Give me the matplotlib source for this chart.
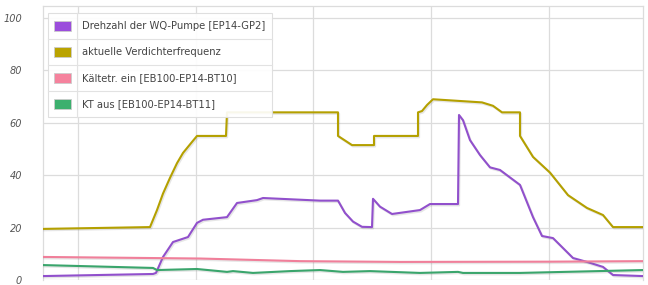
import matplotlib
matplotlib.use("Agg")
import matplotlib.pyplot as plt
import matplotlib.patheffects as pe
from matplotlib.patches import Rectangle

# ---- data (time index, arbitrary units) ----
olive_x = [0, 107, 114, 120, 127, 134, 140, 149, 154, 183, 184, 295, 295, 309, 331, 331, 375, 375, 379, 384, 390, 439, 450, 459, 477, 477, 490, 507, 525, 544, 560, 570, 600]
olive_y = [19.5, 20.2, 26.7, 33, 39, 44.6, 48.5, 52.7, 55, 55, 64, 64, 55, 51.5, 51.5, 55, 55, 64, 64.5, 66.8, 69, 67.8, 66.5, 64, 64, 55, 47, 41, 32.4, 27.5, 24.8, 20.2, 20.2]

purple_x = [0, 110, 113, 120, 130, 145, 154, 160, 184, 194, 214, 220, 277, 295, 302, 310, 319, 329, 330, 337, 349, 377, 387, 415, 416, 420, 427, 437, 447, 457, 477, 490, 499, 510, 530, 544, 560, 570, 600]
purple_y = [1.5, 2.3, 2.7, 8.8, 14.5, 16.4, 21.8, 23, 24, 29.4, 30.5, 31.3, 30.3, 30.3, 25.6, 22.3, 20.3, 20.2, 31, 28, 25.2, 26.7, 29, 29, 63, 61, 53.4, 47.7, 43, 42, 36.3, 24, 16.8, 16, 8.4, 6.9, 5, 1.9, 1.5]

pink_x = [0, 157, 257, 357, 507, 600]
pink_y = [8.8, 8.2, 7.2, 6.9, 7.0, 7.2]

green_x = [0, 110, 114, 154, 184, 190, 210, 247, 277, 300, 327, 377, 415, 420, 477, 600]
green_y = [5.7, 4.6, 3.8, 4.2, 3.1, 3.4, 2.7, 3.4, 3.8, 3.1, 3.4, 2.7, 3.1, 2.7, 2.7, 3.8]

y_ticks = [0, 20, 40, 60, 80, 100]
x_grid = [35, 153, 270, 388, 506]

labels = ["Drehzahl der WQ-Pumpe [EP14-GP2]", "aktuelle Verdichterfrequenz",
          "Kältetr. ein [EB100-EP14-BT10]", "KT aus [EB100-EP14-BT11]"]
line_colors = ["#9150cc", "#b4a000", "#f07f9a", "#3aa56c"]
swatch_colors = ["#9b4ddc", "#baa300", "#f5829d", "#3cb06e"]

W, H = 648, 285
fig = plt.figure(figsize=(W / 100, H / 100), dpi=100)
L, R, T, B = 43, 643, 6, 280
ax = fig.add_axes([L / W, 1 - B / H, (R - L) / W, (B - T) / H])
ax.set_xlim(0, 600)
ax.set_ylim(0, 104.6)

grid_c = "#dcdcdc"
for s in ax.spines.values():
    s.set_color(grid_c)
    s.set_linewidth(0.9)
ax.spines["bottom"].set_visible(False)
ax.set_yticks(y_ticks)
ax.set_yticklabels([str(v) for v in y_ticks], fontstyle="italic", color="#555555", fontsize=7)
ax.tick_params(axis="y", length=0, pad=15)
ax.set_xticks(x_grid)
ax.set_xticklabels([])
ax.tick_params(axis="x", length=0)
ax.grid(True, color=grid_c, linewidth=0.9)
ax.set_axisbelow(True)

shadow = [pe.SimpleLineShadow(offset=(0.8, -1.0), alpha=0.18, shadow_color="#777777"), pe.Normal()]
series = [(purple_x, purple_y), (olive_x, olive_y), (pink_x, pink_y), (green_x, green_y)]
order = [2, 3, 1, 0]
for i in order:
    xs, ys = series[i]
    ax.plot(xs, ys, color=line_colors[i], linewidth=1.5, solid_joinstyle="round",
            path_effects=shadow, zorder=3 + i)

# ---- legend drawn manually in pixel coordinates ----
def px(x, y):
    return x / W, 1 - y / H

lx0, lx1, ly0, ly1 = 48, 272, 13, 117
fig.patches.append(Rectangle(px(lx0, ly1), (lx1 - lx0) / W, (ly1 - ly0) / H,
                             transform=fig.transFigure, facecolor="white", alpha=0.92,
                             edgecolor="#dddddd", linewidth=0.8, zorder=10))
row_h = (ly1 - ly0) / 4
for k in range(1, 4):
    y = ly0 + k * row_h
    fig.add_artist(plt.Line2D([lx0 / W, lx1 / W], [1 - y / H, 1 - y / H], transform=fig.transFigure,
                              color="#e2e2e2", linewidth=0.8, zorder=11))
fig.add_artist(plt.Line2D([77 / W, 77 / W], [1 - ly0 / H, 1 - ly1 / H], transform=fig.transFigure,
                          color="#e2e2e2", linewidth=0.8, zorder=11))
for k, (lab, col) in enumerate(zip(labels, swatch_colors)):
    yc = ly0 + (k + 0.5) * row_h
    fig.patches.append(Rectangle(px(54, yc + 5), 17 / W, 10 / H, transform=fig.transFigure,
                                 facecolor=col, edgecolor="#cccccc", linewidth=0.6, zorder=12))
    fig.text(82 / W, 1 - yc / H, lab, fontsize=7.2, color="#444444", va="center", ha="left", zorder=12)

fig.savefig("out.png", dpi=100)
